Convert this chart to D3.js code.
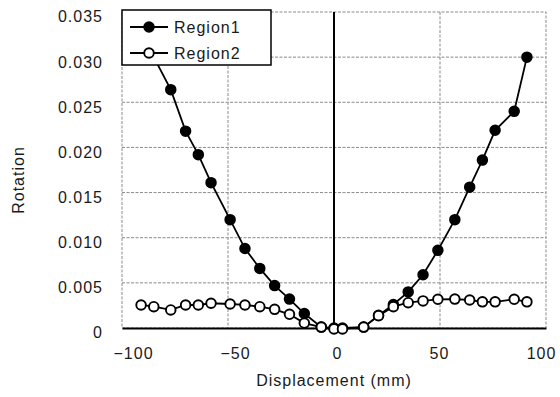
<!DOCTYPE html>
<html>
<head>
<meta charset="utf-8">
<script src="https://cdn.jsdelivr.net/npm/d3@7"></script>
<style>
  body { margin: 0; background: #fff; }
  text { font-family: "Liberation Sans", Arial, sans-serif; font-size: 16px; letter-spacing: 1px; fill: #1a1a1a; }
  .grid line { stroke: #8a8a8a; stroke-width: 1; stroke-dasharray: 3,1.5; }
  .border { fill: none; stroke: #8a8a8a; stroke-width: 1; stroke-dasharray: 3,1.5; }
</style>
</head>
<body>
<svg width="560" height="397"></svg>
<script>
// data
var displacement = [-91, -85, -77, -70, -64, -58, -49, -42, -35, -28, -21, -14, -6, 0, 4, 14, 21, 28, 35, 42, 49, 57, 64, 70, 76, 85, 91];
var region1 = [0.0335, 0.0300, 0.0264, 0.0218, 0.0192, 0.0161, 0.0120, 0.0088, 0.0066, 0.0047, 0.0032, 0.0016, 0.0001, 0, 0, 0.0001, 0.0014, 0.0026, 0.0040, 0.0059, 0.0086, 0.0120, 0.0156, 0.0186, 0.0219, 0.0240, 0.0300];
var region2 = [0.00255, 0.00236, 0.0020, 0.00255, 0.00255, 0.00274, 0.00266, 0.00255, 0.00236, 0.00207, 0.00152, 0.00055, 0.0001, -0.0001, -0.0001, 0.0001, 0.00136, 0.00236, 0.0028, 0.0030, 0.00318, 0.0032, 0.0031, 0.0029, 0.0029, 0.00318, 0.0029];
var xTicks = [-100, -50, 0, 50, 100];
var yTicks = [0, 0.005, 0.010, 0.015, 0.020, 0.025, 0.030, 0.035];
var seriesNames = ["Region1", "Region2"];

var svg = d3.select("svg");
var margin = {top: 12, right: 14, bottom: 69, left: 122};
var width = +svg.attr("width") - margin.left - margin.right;
var height = +svg.attr("height") - margin.top - margin.bottom;

var x = d3.scaleLinear().domain([-100, 100]).range([0, width]);
var y = d3.scaleLinear().domain([0, 0.035]).range([height, 0]);
// tick labels in the scan sit a little inside the outer ticks
var xLabel = d3.scaleLinear().domain([-100, 100]).range([11, width - 5]);

var g = svg.append("g").attr("transform", "translate(" + margin.left + "," + margin.top + ")");

// grid lines
g.append("g").attr("class", "grid")
  .selectAll("line")
  .data(yTicks.slice(1, -1))
  .enter().append("line")
    .attr("x1", 0).attr("x2", width)
    .attr("y1", function(d) { return y(d); })
    .attr("y2", function(d) { return y(d); });

g.append("g").attr("class", "grid")
  .selectAll("line")
  .data([-50, 50])
  .enter().append("line")
    .attr("y1", 0).attr("y2", height)
    .attr("x1", function(d) { return x(d); })
    .attr("x2", function(d) { return x(d); });

g.append("rect").attr("class", "border")
  .attr("x", 0).attr("y", 0).attr("width", width).attr("height", height);

// zero line
g.append("line")
  .attr("x1", x(0)).attr("x2", x(0))
  .attr("y1", 0).attr("y2", height)
  .attr("stroke", "#000").attr("stroke-width", 2);

// axes
var xAxis = g.append("g")
  .attr("transform", "translate(0," + height + ")")
  .call(d3.axisBottom(x).tickValues(xTicks).tickSize(0).tickPadding(20));
xAxis.select(".domain").attr("stroke", "#000").attr("stroke-width", 2);
xAxis.selectAll("text").attr("dx", function(d) { return (xLabel(d) - x(d)) + "px"; });

var yAxis = g.append("g")
  .call(d3.axisLeft(y).tickValues(yTicks).tickSize(0).tickPadding(19)
    .tickFormat(function(d) { return d === 0 ? "0" : d3.format(".3f")(d); }));
yAxis.select(".domain").remove();
yAxis.selectAll("text").attr("dy", "0.62em");

// axis titles
svg.append("text")
  .attr("x", margin.left + width / 2)
  .attr("y", 386)
  .attr("text-anchor", "middle")
  .text("Displacement (mm)");

svg.append("text")
  .attr("transform", "translate(24," + 180 + ") rotate(-90)")
  .attr("text-anchor", "middle")
  .text("Rotation");

// series
var line = d3.line()
  .x(function(d) { return x(d[0]); })
  .y(function(d) { return y(d[1]); });

var data1 = d3.zip(displacement, region1);
var data2 = d3.zip(displacement, region2);

function drawSeries(data, fill) {
  g.append("path")
    .datum(data)
    .attr("fill", "none")
    .attr("stroke", "#000")
    .attr("stroke-width", 1.8)
    .attr("d", line);
  g.append("g")
    .selectAll("circle")
    .data(data)
    .enter().append("circle")
      .attr("cx", function(d) { return x(d[0]); })
      .attr("cy", function(d) { return y(d[1]); })
      .attr("r", 4.8)
      .attr("fill", fill)
      .attr("stroke", "#000")
      .attr("stroke-width", 1.9);
}
drawSeries(data1, "#000");
drawSeries(data2, "#fff");

// legend
var legend = svg.append("g").attr("transform", "translate(122,10)");
legend.append("rect")
  .attr("width", 149).attr("height", 55)
  .attr("fill", "#fff").attr("stroke", "#000").attr("stroke-width", 1.5);

var item = legend.selectAll(".item")
  .data(seriesNames)
  .enter().append("g")
    .attr("class", "item")
    .attr("transform", function(d, i) { return "translate(0," + (17 + i * 26) + ")"; });
item.append("line")
  .attr("x1", 8).attr("x2", 46)
  .attr("stroke", "#000").attr("stroke-width", 1.8);
item.append("circle")
  .attr("cx", 27).attr("r", 4.8)
  .attr("fill", function(d, i) { return i === 0 ? "#000" : "#fff"; })
  .attr("stroke", "#000").attr("stroke-width", 1.9);
item.append("text")
  .attr("x", 52).attr("dy", "0.36em")
  .text(function(d) { return d; });
</script>
</body>
</html>
